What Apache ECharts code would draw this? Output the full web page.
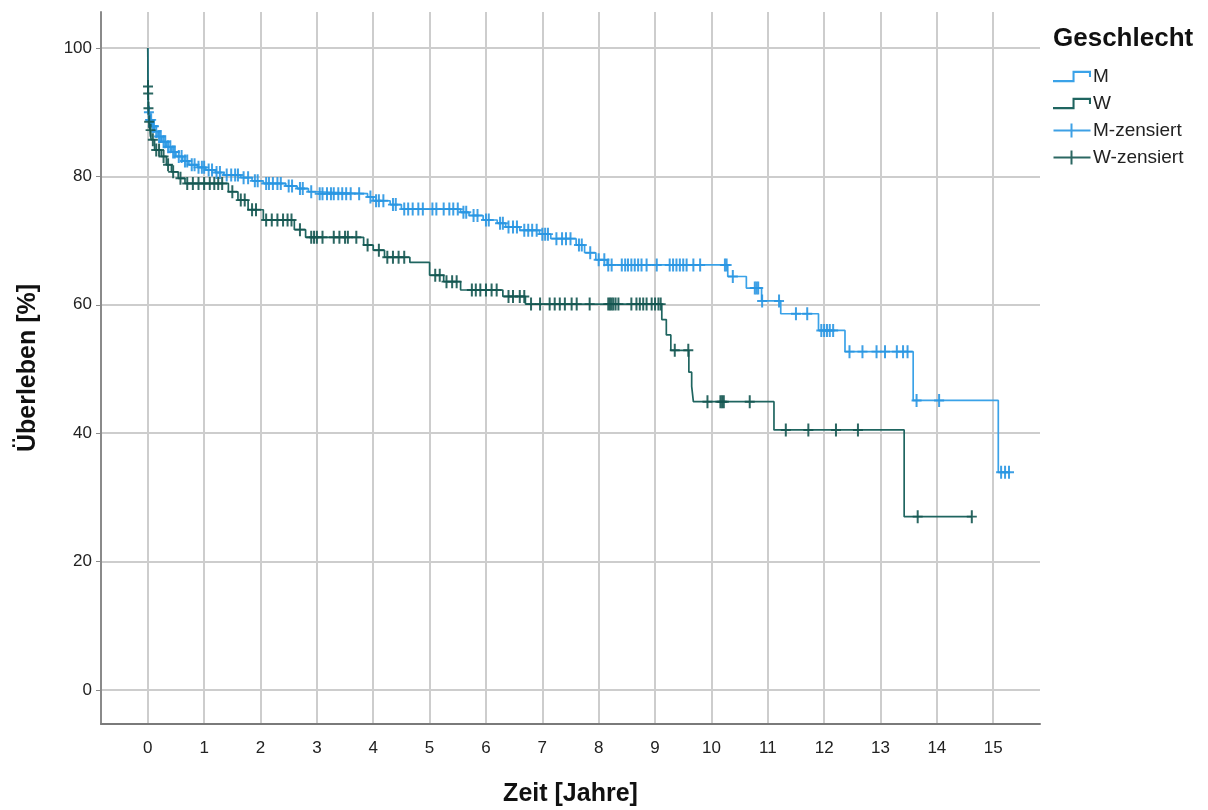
<!DOCTYPE html>
<html>
<head>
<meta charset="utf-8">
<script src="https://cdn.jsdelivr.net/npm/echarts@6.0.0/dist/echarts.min.js"></script>
<style>
  html, body { margin: 0; padding: 0; background: #fff; }
  #chart { width: 1208px; height: 810px; }
</style>
</head>
<body>
<div id="chart"></div>
<script>
// tick labels
const xTicks = [0, 1, 2, 3, 4, 5, 6, 7, 8, 9, 10, 11, 12, 13, 14, 15];
const yTicks = [0, 20, 40, 60, 80, 100];

// Kaplan-Meier steps [Zeit, Überleben] : survival from this time on
const mSteps = [
  [0, 100], [0.01, 90.0], [0.03, 88.8], [0.07, 87.8], [0.12, 87.0], [0.18, 86.2],
  [0.25, 85.4], [0.33, 84.6], [0.42, 83.8], [0.5, 83.1], [0.62, 82.4], [0.73, 81.8],
  [0.88, 81.4], [1.03, 81.0], [1.2, 80.6], [1.35, 80.2], [1.65, 79.8], [1.85, 79.3],
  [2.05, 78.9], [2.45, 78.5], [2.65, 78.1], [2.85, 77.6], [3.0, 77.3], [3.9, 76.8],
  [4.0, 76.2], [4.3, 75.6], [4.5, 74.9], [5.55, 74.4], [5.7, 73.9], [5.95, 73.2],
  [6.2, 72.7], [6.35, 72.1], [6.6, 71.6], [6.95, 71.0], [7.15, 70.3], [7.6, 69.3],
  [7.75, 68.1], [7.95, 67.0], [8.15, 66.2], [10.29, 64.4], [10.62, 62.6], [10.89, 60.6],
  [11.23, 58.6], [11.9, 56.0], [12.37, 52.7], [13.58, 45.1], [15.09, 33.9], [15.3, 33.9]
];
const wSteps = [
  [0, 100], [0.003, 94.0], [0.006, 92.9], [0.01, 90.6], [0.02, 88.5], [0.04, 87.2],
  [0.06, 85.7], [0.12, 84.1], [0.24, 83.1], [0.33, 81.8], [0.42, 80.7], [0.54, 79.7],
  [0.66, 78.9], [1.43, 77.6], [1.6, 76.3], [1.78, 74.8], [2.05, 73.2], [2.6, 71.7],
  [2.8, 70.5], [3.83, 69.3], [4.0, 68.5], [4.2, 67.4], [4.65, 66.6], [5.0, 64.6],
  [5.25, 63.6], [5.55, 62.3], [6.3, 61.3], [6.7, 60.1], [9.12, 57.7], [9.2, 55.3],
  [9.28, 52.9], [9.6, 49.5], [9.65, 47.3], [9.68, 44.9], [11.11, 40.5], [13.42, 27.0],
  [14.62, 27.0]
];

// censored times
const mCensored = [
  0.02, 0.04, 0.06, 0.09, 0.11, 0.15, 0.2, 0.23, 0.28, 0.31, 0.36, 0.4, 0.45, 0.48,
  0.55, 0.6, 0.66, 0.7, 0.78, 0.83, 0.9, 0.96, 1.0, 1.08, 1.14, 1.22, 1.28, 1.4, 1.48,
  1.55, 1.6, 1.7, 1.78, 1.9, 1.95, 2.1, 2.15, 2.22, 2.3, 2.36, 2.5, 2.56, 2.7, 2.75,
  2.9, 3.05, 3.1, 3.18, 3.25, 3.3, 3.38, 3.45, 3.52, 3.6, 3.75, 3.95, 4.05, 4.1, 4.18,
  4.35, 4.4, 4.55, 4.62, 4.7, 4.8, 4.88, 5.05, 5.12, 5.25, 5.35, 5.42, 5.5, 5.6, 5.65,
  5.78, 5.85, 6.0, 6.05, 6.25, 6.3, 6.4, 6.48, 6.55, 6.68, 6.75, 6.82, 6.9, 7.0, 7.05,
  7.1, 7.25, 7.35, 7.42, 7.5, 7.65, 7.7, 7.85, 8.0, 8.1, 8.17, 8.23, 8.41, 8.47, 8.52,
  8.58, 8.64, 8.7, 8.76, 8.85, 9.03, 9.26, 9.32, 9.38, 9.44, 9.5, 9.56, 9.68, 9.8,
  10.24, 10.27, 10.38, 10.77, 10.8, 10.83, 10.9, 11.2, 11.5, 11.7, 11.95, 12.0, 12.05,
  12.1, 12.16, 12.45, 12.68, 12.93, 13.08, 13.29, 13.4, 13.48, 13.64, 14.04, 15.14,
  15.21, 15.28
];
const wCensored = [
  0.004, 0.007, 0.012, 0.025, 0.05, 0.09, 0.15, 0.2, 0.28, 0.36, 0.45, 0.58, 0.7, 0.8,
  0.9, 1.0, 1.1, 1.18, 1.25, 1.32, 1.5, 1.65, 1.72, 1.85, 1.92, 2.1, 2.2, 2.3, 2.4,
  2.48, 2.55, 2.7, 2.9, 2.95, 3.0, 3.1, 3.3, 3.4, 3.5, 3.55, 3.7, 3.9, 4.1, 4.25, 4.35,
  4.45, 4.55, 5.1, 5.18, 5.3, 5.4, 5.48, 5.75, 5.82, 5.9, 6.0, 6.1, 6.19, 6.4, 6.48,
  6.6, 6.68, 6.8, 6.96, 7.13, 7.22, 7.31, 7.4, 7.52, 7.61, 7.84, 8.17, 8.2, 8.23, 8.26,
  8.3, 8.35, 8.58, 8.67, 8.73, 8.79, 8.85, 8.94, 9.0, 9.06, 9.1, 9.35, 9.59, 9.93,
  10.16, 10.19, 10.22, 10.68, 11.32, 11.72, 12.21, 12.6, 13.66, 14.62
];

const colorM = '#3aa2e8';
const colorW = '#1f6560';
const markM = '#2996e2';
const markW = '#145651';
const fontMain = "'Liberation Sans', Arial, sans-serif";

// censor mark sits on the curve: value of the step in force at that time
function onCurve(steps, times) {
  return times.map((t) => {
    let v = steps[0][1];
    for (let i = 0; i < steps.length; i++) {
      if (steps[i][0] <= t) v = steps[i][1];
    }
    return [t, v];
  });
}

const plusPath = 'path://M8,0 H12 V8.5 H20 V11.5 H12 V20 H8 V11.5 H0 V8.5 H8 Z';
const stepIcon = 'path://M0,10 H19 V1 H37 V7 H35 V3 H21 V12 H0 Z';
const censorIcon = 'path://M0,6 H17 V0 H19 V6 H37 V8 H19 V14 H17 V8 H0 Z';

const chart = echarts.init(document.getElementById('chart'), null, { renderer: 'canvas' });

const option = {
  animation: false,
  backgroundColor: '#fff',
  title: {
    text: 'Geschlecht',
    left: 1053,
    top: 26,
    padding: 0,
    textStyle: { fontFamily: fontMain, fontSize: 26, fontWeight: 'bold', color: '#111' }
  },
  legend: {
    orient: 'vertical',
    left: 1048,
    top: 62,
    itemWidth: 38,
    itemHeight: 14,
    itemGap: 8,
    selectedMode: false,
    textStyle: { fontFamily: fontMain, fontSize: 19, color: '#222', padding: [0, 0, 0, -3] },
    data: [
      { name: 'M', icon: stepIcon },
      { name: 'W', icon: stepIcon },
      { name: 'M-zensiert', icon: censorIcon },
      { name: 'W-zensiert', icon: censorIcon }
    ]
  },
  grid: { left: 101, top: 12, right: 168, bottom: 86, outerBoundsMode: 'none' },
  xAxis: {
    type: 'value',
    min: -0.83,
    max: 15.83,
    name: 'Zeit [Jahre]',
    nameLocation: 'middle',
    nameGap: 58,
    nameTextStyle: { fontFamily: fontMain, fontSize: 25, fontWeight: 'bold', color: '#111' },
    axisLine: { show: true, onZero: false, lineStyle: { color: '#7a7a7a', width: 2 } },
    axisTick: { show: false, customValues: xTicks },
    axisLabel: {
      customValues: xTicks,
      margin: 16,
      fontFamily: fontMain,
      fontSize: 17,
      color: '#222'
    },
    splitLine: { show: true, lineStyle: { color: '#cdcdcd', width: 2 } }
  },
  yAxis: {
    type: 'value',
    min: -5.3,
    max: 105.6,
    name: 'Überleben [%]',
    nameLocation: 'middle',
    nameGap: 60,
    nameRotate: 90,
    nameTextStyle: { fontFamily: fontMain, fontSize: 25, fontWeight: 'bold', color: '#111' },
    axisLine: { show: true, onZero: false, lineStyle: { color: '#8a8a8a', width: 2 } },
    axisTick: { show: true, length: 5, customValues: yTicks, lineStyle: { color: '#8a8a8a', width: 1 } },
    axisLabel: {
      customValues: yTicks,
      margin: 9,
      fontFamily: fontMain,
      fontSize: 17,
      color: '#222'
    },
    splitLine: { show: true, lineStyle: { color: '#cdcdcd', width: 2 } }
  },
  series: [
    {
      name: 'M',
      type: 'line',
      step: 'end',
      data: mSteps,
      showSymbol: false,
      color: colorM,
      lineStyle: { color: colorM, width: 1.7 },
      z: 2
    },
    {
      name: 'W',
      type: 'line',
      step: 'end',
      data: wSteps,
      showSymbol: false,
      color: colorW,
      lineStyle: { color: colorW, width: 1.7 },
      z: 3
    },
    {
      name: 'M-zensiert',
      type: 'scatter',
      data: onCurve(mSteps, mCensored),
      symbol: plusPath,
      symbolSize: [10, 13],
      color: markM,
      itemStyle: { color: markM, opacity: 0.9 },
      z: 4
    },
    {
      name: 'W-zensiert',
      type: 'scatter',
      data: onCurve(wSteps, wCensored),
      symbol: plusPath,
      symbolSize: [10, 13],
      color: markW,
      itemStyle: { color: markW, opacity: 0.9 },
      z: 5
    }
  ]
};

chart.setOption(option);
</script>
</body>
</html>
